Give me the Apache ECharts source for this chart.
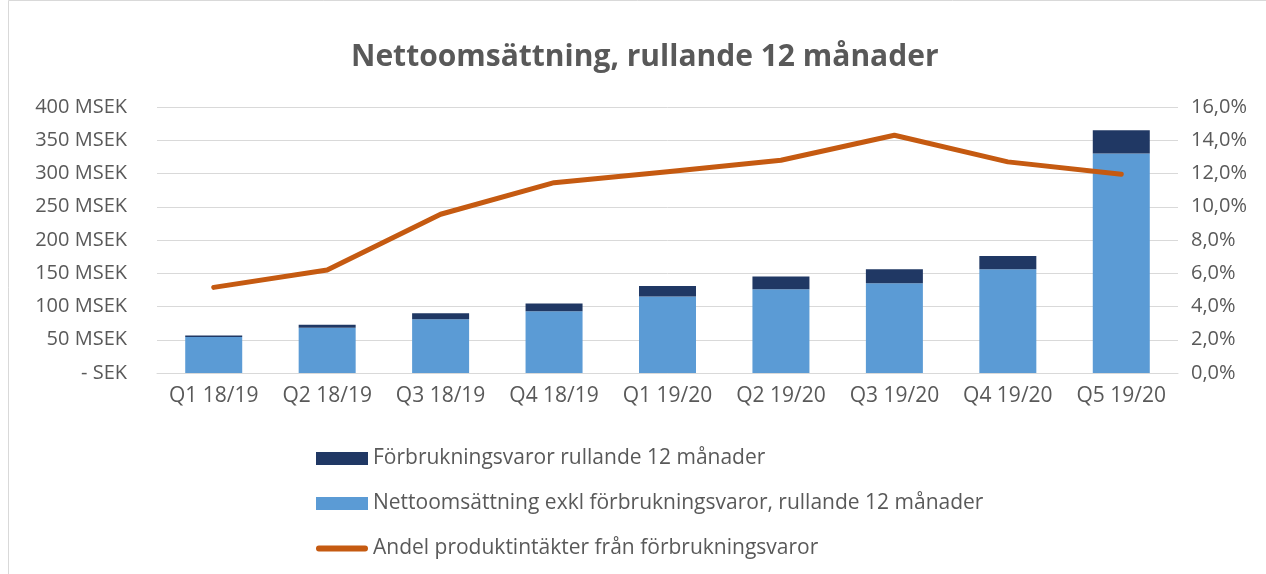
<!DOCTYPE html>
<html><head><meta charset="utf-8">
<script src="https://cdn.jsdelivr.net/npm/echarts@6/dist/echarts.min.js"></script>
<style>html,body{margin:0;padding:0;background:#fff}#c{width:1266px;height:574px}</style>
</head><body><div id="c"></div>
<script>
const categories = ['Q1 18/19','Q2 18/19','Q3 18/19','Q4 18/19','Q1 19/20','Q2 19/20','Q3 19/20','Q4 19/20','Q5 19/20'];
const nettoExkl = [54, 68, 81, 93, 115, 126, 135, 156, 330];
const forbrukning = [2.5, 4.5, 9, 11.5, 16, 19, 21, 20, 35];
const andelPct = [5.15, 6.2, 9.55, 11.45, 12.1, 12.8, 14.3, 12.7, 11.95];
const leftTicks = { min: 0, max: 400, interval: 50 };
const rightTicks = { min: 0, max: 16, interval: 2 };

const FONT = '"Open Sans", Lato, Liberation Sans, Arial, sans-serif';
const chart = echarts.init(document.getElementById('c'), null, { renderer: 'canvas' });
chart.setOption({
  animation: false,
  backgroundColor: '#fff',
  title: {
    text: 'Nettoomsättning, rullande 12 månader',
    left: 346, top: 37,
    textStyle: { fontFamily: FONT, fontSize: 30, fontWeight: 'bold', color: '#595959' }
  },
  graphic: [{ type: 'rect', shape: { x: 8.5, y: 0.5, width: 1300, height: 580 }, style: { fill: 'none', stroke: '#D9D9D9', lineWidth: 1 } }],
  grid: { left: 157, right: 88, top: 107, bottom: 201 },
  legend: {
    orient: 'vertical', left: 311, top: 443, itemGap: 24,
    itemWidth: 52, itemHeight: 13,
    textStyle: { fontFamily: FONT, fontSize: 21, color: '#595959' },
    data: [
      { name: 'Förbrukningsvaror rullande 12 månader', icon: 'rect' },
      { name: 'Nettoomsättning exkl förbrukningsvaror, rullande 12 månader', icon: 'rect' },
      { name: 'Andel produktintäkter från förbrukningsvaror', icon: 'path://M3,0 L51,0 A3,3 0 0 1 51,6 L3,6 A3,3 0 0 1 3,0 Z' }
    ]
  },
  xAxis: {
    type: 'category', data: categories,
    axisLine: { lineStyle: { color: '#D9D9D9', width: 1 } },
    axisTick: { show: false },
    axisLabel: { fontFamily: FONT, fontSize: 21, color: '#595959', margin: 13, interval: 0 }
  },
  yAxis: [{
    type: 'value', min: leftTicks.min, max: leftTicks.max, interval: leftTicks.interval,
    axisLine: { show: false }, axisTick: { show: false },
    splitLine: { lineStyle: { color: '#D9D9D9', width: 1 } },
    axisLabel: { fontFamily: FONT, fontSize: 20, color: '#595959', margin: 30,
      formatter: v => v === 0 ? '- SEK' : v + ' MSEK' }
  }, {
    type: 'value', min: rightTicks.min, max: rightTicks.max, interval: rightTicks.interval,
    position: 'right',
    axisLine: { show: false }, axisTick: { show: false }, splitLine: { show: false },
    axisLabel: { fontFamily: FONT, fontSize: 20, color: '#595959', margin: 13,
      formatter: v => v.toFixed(1).replace('.', ',') + '%' }
  }],
  series: [{
    name: 'Nettoomsättning exkl förbrukningsvaror, rullande 12 månader',
    type: 'bar', stack: 'a', data: nettoExkl, barWidth: 57,
    itemStyle: { color: '#5B9BD5' }
  }, {
    name: 'Förbrukningsvaror rullande 12 månader',
    type: 'bar', stack: 'a', data: forbrukning, barWidth: 57,
    itemStyle: { color: '#203864' }
  }, {
    name: 'Andel produktintäkter från förbrukningsvaror',
    type: 'line', yAxisIndex: 1, data: andelPct, symbol: 'none',
    lineStyle: { color: '#C55A11', width: 5, cap: 'round', join: 'round' },
    itemStyle: { color: '#C55A11' }
  }]
});
</script></body></html>
